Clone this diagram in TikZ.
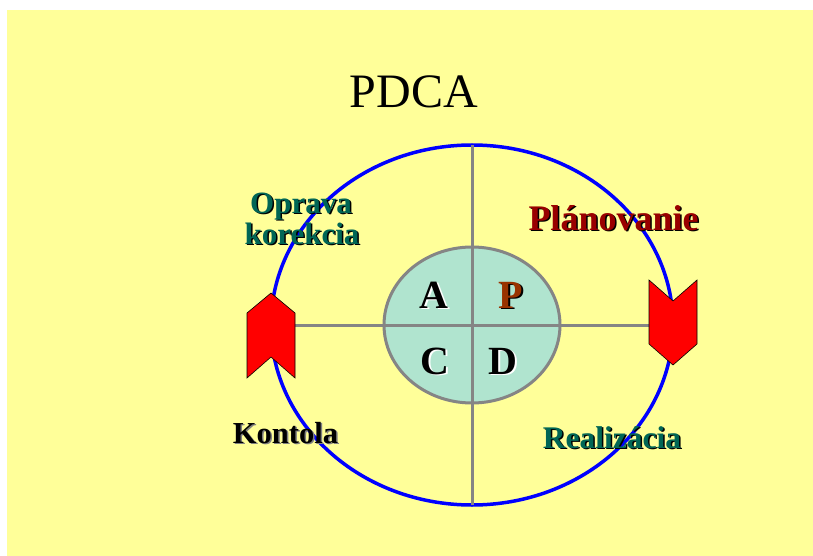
\documentclass[tikz,border=0pt]{standalone}
\usepackage{fontspec}
\setmainfont{Liberation Serif}
\definecolor{bgyellow}{HTML}{FFFF99}
\definecolor{labteal}{HTML}{006655}
\definecolor{labred}{HTML}{990000}
\definecolor{pbrown}{HTML}{993300}
\definecolor{innerfill}{HTML}{B0E4CF}
\definecolor{linegray}{HTML}{858585}
\tikzset{
  lab/.style={font=\bfseries\fontsize{#1}{#1}\selectfont, anchor=base, inner sep=0pt},
  lab/.default=30,
  grayline/.style={draw=linegray, line width=3pt},
  arrowshape/.style={fill=red, draw=black, line width=0.6pt, line join=miter}
}
\begin{document}
\begin{tikzpicture}[x=1pt,y=-1pt]
\useasboundingbox (0,0) rectangle (813,556);
\fill[bgyellow] (7,10) rectangle (813,556);

% title
\node[anchor=base, inner sep=0pt, font=\fontsize{48}{48}\selectfont] (title) at (414,108) {PDCA};

% big blue circle
\coordinate (ctr) at (472,325);
\draw[blue, line width=3.5pt] (ctr) ellipse [x radius=201, y radius=180];
\coordinate (vtop) at (472,145);
\coordinate (vbot) at (472,505);

% inner ellipse
\path[fill=innerfill] (ctr) ellipse [x radius=88, y radius=78];

% gray cross lines
\coordinate (hl) at (295,325);
\coordinate (hr) at (649,325);
\draw[grayline] (vtop) -- (vbot);
\draw[grayline] (hl) -- (hr);
\draw[grayline] (ctr) ellipse [x radius=88, y radius=78];

% red arrow shapes
\draw[arrowshape] (247,313) -- (271,293) -- (295,313) -- (295,378) -- (271,357) -- (247,378) -- cycle;
\draw[arrowshape] (649,280) -- (673,301) -- (697,280) -- (697,344) -- (673,365) -- (649,344) -- cycle;

% quadrant letters
\node[lab=40, white] (As) at (435.5,309.5) {A};
\node[lab=40, black] (A) at (434,308) {A};
\node[lab=40, black] (Ps) at (512.5,309.5) {P};
\node[lab=40, pbrown] (P) at (511,308) {P};
\node[lab=40, white] (Cs) at (436.5,375.5) {C};
\node[lab=40, black] (C) at (435,374) {C};
\node[lab=40, white] (Ds) at (504.5,375.5) {D};
\node[lab=40, black] (D) at (503,374) {D};

% labels
\node[lab=31, black] (op1s) at (302.5,214.5) {Oprava};
\node[lab=31, labteal] (op1) at (301,213) {Oprava};
\node[lab=31, black] (op2s) at (303.5,245.5) {korekcia};
\node[lab=31, labteal] (op2) at (302,244) {korekcia};

\node[lab=36, black] (plans) at (615,231.5) {Plánovanie};
\node[lab=36, labred] (plan) at (613.5,230) {Plánovanie};

\node[lab=30.5, gray] (konts) at (287,444.5) {Kontola};
\node[lab=30.5, black] (kont) at (285.5,443) {Kontola};

\node[lab=31.5, black] (reals) at (613.5,449.5) {Realizácia};
\node[lab=31.5, labteal] (real) at (612,448) {Realizácia};
\end{tikzpicture}
\end{document}
